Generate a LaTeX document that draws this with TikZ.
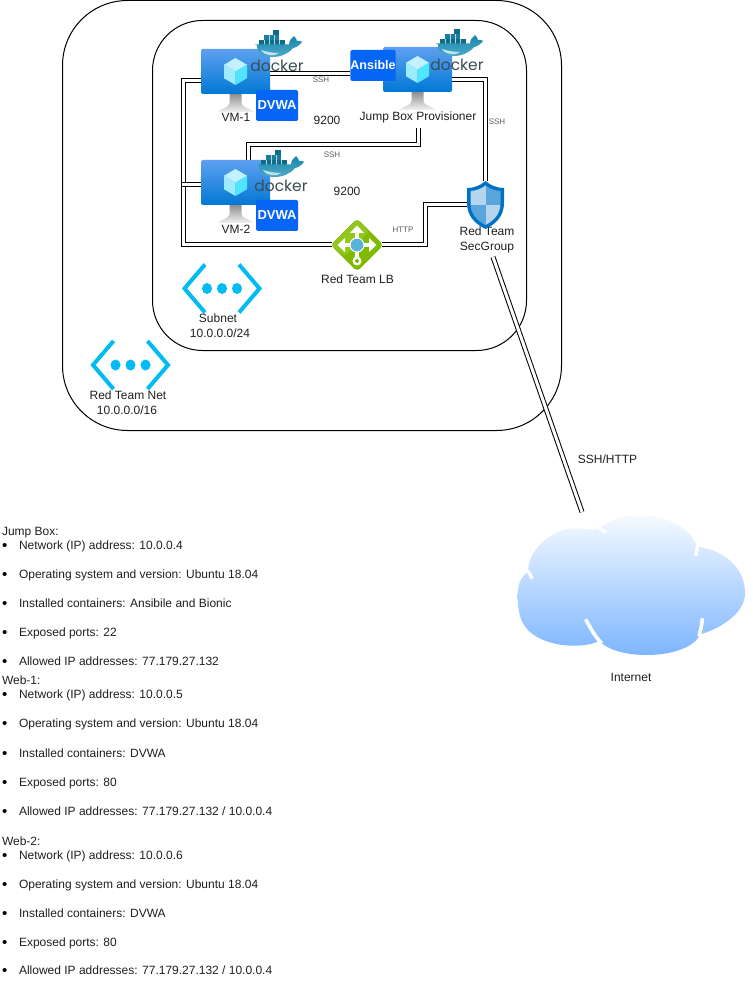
\documentclass[tikz,border=0pt]{standalone}
\usepackage{fontspec}
\setmainfont{Liberation Sans}
\newfontfamily\dockerfont{Poppins}
\definecolor{txt}{HTML}{1F1F1F}
\definecolor{lbl}{HTML}{5A5A5A}
\definecolor{boxblue}{HTML}{0566F5}
\definecolor{netblue}{HTML}{00BCF2}
\definecolor{dockertxt}{HTML}{394D54}
\definecolor{standtop}{HTML}{8F8F8F}
\definecolor{standbot}{HTML}{F2F2F2}
\definecolor{scrtop}{HTML}{5EA0EF}
\definecolor{scrbot}{HTML}{0078D4}
\definecolor{cubea}{HTML}{C3F1FF}
\definecolor{cubeb}{HTML}{9CEBFF}
\definecolor{cubec}{HTML}{50E6FF}
\definecolor{boxdark}{HTML}{0E6C88}
\definecolor{boxmid}{HTML}{1A7F9C}
\definecolor{whaletop}{HTML}{1687AB}
\definecolor{whalebot}{HTML}{4FA9C8}
\definecolor{whalebelly}{HTML}{BFE2EE}
\definecolor{lbgreen}{HTML}{7FBA00}
\definecolor{lblight}{HTML}{93C71E}
\definecolor{lbblue}{HTML}{59B4D9}
\definecolor{shieldout}{HTML}{0072C6}
\definecolor{shieldpale}{HTML}{B3D5EE}
\definecolor{shieldmid}{HTML}{59A5DC}
\definecolor{cloudtop}{HTML}{F6FAFF}
\definecolor{cloudbot}{HTML}{7DB6FF}
\tikzset{
  zone/.style={draw=black,line width=1pt},
  link/.style={draw=black,line width=1pt,double=white,double distance=3pt,line join=miter},
  hold/.style={inner sep=0pt,outer sep=0pt,draw=none},
  caption/.style={inner sep=0pt,outer sep=0pt,text=txt,font=\fontsize{12}{15}\selectfont,align=center},
  small/.style={inner sep=0pt,outer sep=0pt,text=lbl,font=\fontsize{8}{10}\selectfont},
  listtext/.style={inner sep=0pt,outer sep=0pt,anchor=base west,text=txt,font=\fontsize{12}{15}\selectfont},
  bulletmark/.style={inner sep=0pt,outer sep=0pt,anchor=base west,text=black,font=\fontsize{15}{15}\selectfont},
  badge/.style={inner sep=0pt,outer sep=0pt,fill=boxblue,rounded corners=1.5pt,minimum width=42pt,minimum height=31pt,text=white,font=\bfseries\fontsize{13}{15}\selectfont},
}
\newcommand{\azmonitor}[3]{% name, centre x, top y
  \shade[top color=standtop,bottom color=standbot] (#2-6,#3+45) -- (#2+6,#3+45) -- (#2+6,#3+54) .. controls (#2+6,#3+59) and (#2+15,#3+59) .. (#2+18,#3+63) -- (#2-18,#3+63) .. controls (#2-15,#3+59) and (#2-6,#3+59) .. (#2-6,#3+54) -- cycle;
  \node[hold,minimum width=69pt,minimum height=45pt,rounded corners=1.5pt,top color=scrtop,bottom color=scrbot] (#1) at (#2,#3+22.5) {};
  \fill[cubea] (#2,#3+9) -- (#2+11.5,#3+15.75) -- (#2,#3+22.5) -- (#2-11.5,#3+15.75) -- cycle;
  \fill[cubeb] (#2-11.5,#3+15.75) -- (#2,#3+22.5) -- (#2,#3+36) -- (#2-11.5,#3+29.25) -- cycle;
  \fill[cubec] (#2+11.5,#3+15.75) -- (#2,#3+22.5) -- (#2,#3+36) -- (#2+11.5,#3+29.25) -- cycle;
}
\newcommand{\dockerlogo}[4]{% name, whale left, whale top, text centre x ; text sits below
  \begin{scope}[shift={(#2,#3)}]
    \fill[boxdark] (18,0) rectangle (24,5);
    \fill[boxmid] (9,5) rectangle (24,10);
    \fill[boxdark] (4,10) rectangle (30,15);
    \draw[white!70!boxdark,line width=.3pt] (9,10)--(9,15) (14,5)--(14,15) (19,5)--(19,15) (24,10)--(24,15);
    \shade[top color=whaletop,bottom color=whalebot] (0,14.5) -- (34,14.5) .. controls (34,10) and (37,8) .. (39,6) .. controls (41,8) and (42,10) .. (42,11) .. controls (44,10.5) and (46,11) .. (47,12) .. controls (43,17) and (39,18) .. (38,18) .. controls (33,24) and (26,27) .. (17,27) .. controls (8,27) and (2,23) .. (2,15.5) -- cycle;
    \fill[whalebelly] (6,20) .. controls (12,22) and (18,23) .. (24,23) .. controls (20,26.5) and (10,26.5) .. (6,20) -- cycle;
  \end{scope}
  \node[hold,text=dockertxt,font=\dockerfont\fontsize{15.5}{16}\selectfont] (#1) at (#4,#3+36) {docker};
}
\newcommand{\netglyph}[3]{% name, centre x, centre y
  \node[hold,minimum width=79pt,minimum height=49pt] (#1) at (#2,#3) {};
  \draw[netblue,line width=4pt] (#2-17,#3-24) -- (#2-37.5,#3) -- (#2-17,#3+24);
  \draw[netblue,line width=4pt] (#2+17,#3-24) -- (#2+37.5,#3) -- (#2+17,#3+24);
  \foreach \dx in {-15,0,15} {\fill[netblue] (#2+\dx,#3) ellipse [x radius=5pt,y radius=5.5pt];}
}
\begin{document}
\begin{tikzpicture}[x=1pt,y=-1pt]
\useasboundingbox (0,0) rectangle (752,981);
% zones
\draw[zone,rounded corners=65pt] (62.5,0.5) rectangle (561.5,430.5);
\draw[zone,rounded corners=50pt] (152.5,20.5) rectangle (526.5,350.5);
% monitors
\azmonitor{vm1}{235.5}{49}
\azmonitor{vm2}{235.5}{160}
\azmonitor{jump}{417.5}{47}
\dockerlogo{dk1}{255}{30}{277}
\dockerlogo{dkj}{436}{29}{457}
\dockerlogo{dk2}{257}{150}{281}
% captions that anchor connectors
\node[caption] (vm1l) at (236,117) {VM-1};
\node[caption] (vm2l) at (236,229) {VM-2};
\node[caption,minimum height=22pt] (jumpl) at (418,117) {Jump Box Provisioner};
\node[hold,minimum width=50pt,minimum height=50pt] (lb) at (357,245) {};
\node[hold,minimum width=37pt,minimum height=48pt] (shield) at (485.5,205) {};
\node[caption,minimum height=34pt] (secl) at (487,240) {Red Team\\SecGroup};
\node[hold,minimum width=228pt,minimum height=140pt] (cloud) at (631,585) {};
\node[badge] (ans) at (373,65.5) {\fontsize{12.5}{15}\selectfont Ansible};
\coordinate (bus) at (183,200);
\coordinate (j2) at (248,144.5);
\coordinate (lbmid) at (425,225);
\coordinate (busstub) at (182,185);
% connectors
\draw[link] ([yshift=-9.5pt]vm1.west) -| (bus) |- (lb.west);
\draw[link] (busstub) -- (busstub -| vm2.west);
\draw[link] ([yshift=-2pt]vm1.east) -- ([yshift=-2pt]vm1.east -| ans.west);
\draw[link] (jumpl.south) |- (j2) -- (j2 |- vm2.north);
\draw[link] ([yshift=-10.5pt]jump.east) -| (shield.north);
\draw[link] (lb.east) -| (lbmid) |- (shield.west);
\draw[link] ([xshift=6pt]secl.south) -- ([xshift=-49pt,yshift=3pt]cloud.north);
% badges
\node[badge] (dv1) at (277,105.5) {DVWA};
\node[badge] (dv2) at (277,215.5) {DVWA};
% load balancer
\fill[lbgreen,rounded corners=4pt] (357,218.5) -- (383.5,245) -- (357,271.5) -- (330.5,245) -- cycle;
\fill[lblight,rounded corners=3pt] (357,219.5) -- (369,231.5) -- (344,256.5) -- (331.5,245) -- cycle;
\draw[white,line width=3.5pt] (342,245) -- (372,245) (357,231) -- (357,262);
\fill[white] (357,225.5) -- (364,233) -- (350,233) -- cycle;
\fill[white] (337.5,245) -- (345,238) -- (345,252) -- cycle;
\fill[white] (376.5,245) -- (369,238) -- (369,252) -- cycle;
\fill[white] (357,261) circle (4.5pt);
\fill[lbgreen] (357,261) circle (2pt);
\fill[white] (357,245) circle (7.5pt);
\fill[lbblue] (357,245) circle (6.3pt);
% shield
\fill[shieldout] (485.5,181) .. controls (491,186) and (498,188) .. (504,188) -- (504,203) .. controls (504,216) and (496,224) .. (485.5,229) .. controls (475,224) and (467,216) .. (467,203) -- (467,188) .. controls (473,188) and (480,186) .. (485.5,181) -- cycle;
\begin{scope}
  \clip (485.5,185.5) .. controls (490,189) and (496,191) .. (500.5,191) -- (500.5,203) .. controls (500.5,214) and (494,220.5) .. (485.5,225) .. controls (477,220.5) and (470.5,214) .. (470.5,203) -- (470.5,191) .. controls (475,191) and (481,189) .. (485.5,185.5) -- cycle;
  \fill[shieldpale] (465,180) rectangle (485.5,205);
  \fill[shieldmid] (485.5,180) rectangle (505,205);
  \fill[shieldmid] (465,205) rectangle (485.5,230);
  \fill[shieldpale] (485.5,205) rectangle (505,230);
\end{scope}
% network glyphs
\netglyph{subnet}{222}{288.5}
\netglyph{net}{130.5}{365}
% cloud
\begin{scope}[shift={(500,500)},x=0.3333pt,y=-0.3333pt]
  \shade[top color=cloudtop,bottom color=cloudbot] (300,85) .. controls (340,50) and (390,45) .. (420,45) .. controls (510,45) and (580,95) .. (590,140) .. controls (670,150) and (735,200) .. (735,280) .. controls (735,345) and (650,390) .. (600,403) .. controls (585,440) and (520,465) .. (440,465) .. controls (375,465) and (325,450) .. (297,423) .. controls (265,440) and (190,445) .. (130,420) .. controls (70,395) and (53,355) .. (53,285) .. controls (53,250) and (65,228) .. (85,215) .. controls (80,150) and (160,85) .. (225,85) .. controls (255,85) and (280,92) .. (300,85) -- cycle;
  \draw[white,line width=3.6pt] (257,358) .. controls (272,385) and (285,410) .. (305,430);
  \draw[white,line width=3.6pt] (607,355) .. controls (606,375) and (602,390) .. (597,408);
  \draw[white,line width=3.2pt] (588,168) -- (593,136);
  \draw[white,line width=3.2pt] (320,98) -- (296,84);
  \draw[white,line width=3.2pt] (97,236) -- (84,212);
\end{scope}
% labels
\node[caption] (subl1) at (218,318) {Subnet};
\node[caption] (subl2) at (220,333) {10.0.0.0/24};
\node[caption] (netl1) at (128,395) {Red Team Net};
\node[caption] (netl2) at (127,410) {10.0.0.0/16};
\node[caption] (lbl1) at (357.5,279.5) {Red Team LB};
\node[caption] (inet) at (631,677) {Internet};
\node[caption] (p1) at (327,120.5) {9200};
\node[caption] (p2) at (347,191.5) {9200};
\node[caption] (shttp) at (607.5,459.5) {SSH/HTTP};
\node[small] (s1) at (321,80) {SSH};
\node[small] (s2) at (497,121.5) {SSH};
\node[small] (s3) at (332,155) {SSH};
\node[small] (s4) at (403,230) {HTTP};
% lists
\node[listtext] (h1) at (2,535) {Jump Box:};
\node[listtext] (h2) at (2,684) {Web-1:};
\node[listtext] (h3) at (2,845) {Web-2:};
\foreach \i/\yy/\tx in {
  1/549/{Network (IP) address: 10.0.0.4},
  2/578/{Operating system and version: Ubuntu 18.04},
  3/607/{Installed containers: Ansibile and Bionic},
  4/636/{Exposed ports: 22},
  5/665/{Allowed IP addresses: 77.179.27.132},
  6/698/{Network (IP) address: 10.0.0.5},
  7/727/{Operating system and version: Ubuntu 18.04},
  8/757/{Installed containers: DVWA},
  9/786/{Exposed ports: 80},
  10/815/{Allowed IP addresses: 77.179.27.132 / 10.0.0.4},
  11/859/{Network (IP) address: 10.0.0.6},
  12/888/{Operating system and version: Ubuntu 18.04},
  13/917/{Installed containers: DVWA},
  14/946/{Exposed ports: 80},
  15/974/{Allowed IP addresses: 77.179.27.132 / 10.0.0.4}} {
  \node[listtext] (t\i) at (19,\yy) {\tx};
  \node[bulletmark] (b\i) at (2,\yy+1) {•};
}
\end{tikzpicture}
\end{document}
